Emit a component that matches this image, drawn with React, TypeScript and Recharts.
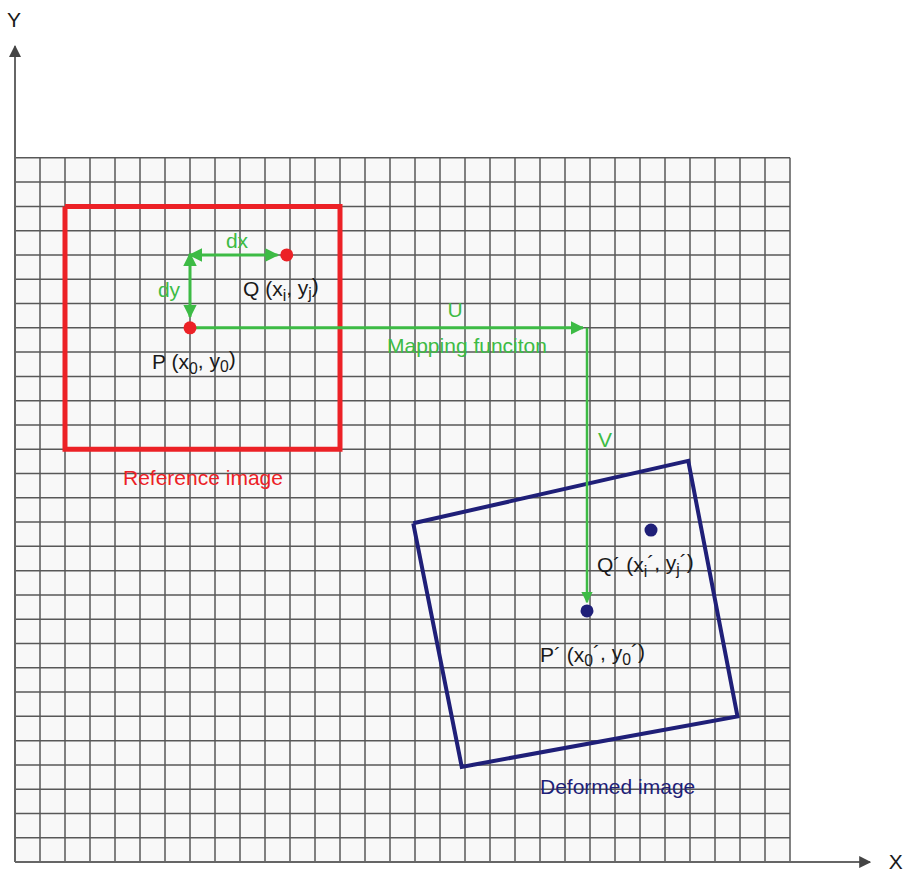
import React from 'react';
import {
  ComposedChart, Line, Scatter, XAxis, YAxis, ReferenceLine, ReferenceArea,
} from 'recharts';

// grid cells (x: columns, y: rows from bottom)
const gridCols = [0, 1, 2, 3, 4, 5, 6, 7, 8, 9, 10, 11, 12, 13, 14, 15, 16, 17, 18, 19, 20, 21, 22, 23, 24, 25, 26, 27, 28, 29, 30, 31];
const gridRows = [0, 1, 2, 3, 4, 5, 6, 7, 8, 9, 10, 11, 12, 13, 14, 15, 16, 17, 18, 19, 20, 21, 22, 23, 24, 25, 26, 27, 28, 29];

const referenceBox = [
  { x: 2, y: 27 }, { x: 13, y: 27 }, { x: 13, y: 17 }, { x: 2, y: 17 }, { x: 2, y: 27 },
];
const deformedBox = [
  { x: 15.93, y: 13.95 }, { x: 26.93, y: 16.52 }, { x: 28.9, y: 6.0 }, { x: 17.87, y: 3.92 }, { x: 15.93, y: 13.95 },
];

const refPoints = [{ x: 7, y: 22 }, { x: 10.87, y: 25 }];
const defPoints = [{ x: 22.88, y: 10.34 }, { x: 25.44, y: 13.67 }];

const dxArrow = [{ x: 7, y: 25 }, { x: 10.5, y: 25 }];
const dyArrow = [{ x: 7, y: 25.05 }, { x: 7, y: 22.45 }];
const uArrow = [{ x: 7, y: 22 }, { x: 22.72, y: 22 }];
const vLine = [{ x: 22.88, y: 22 }, { x: 22.88, y: 10.7 }];

const yAxisArrow = [{ x: 0, y: 0 }, { x: 0, y: 33.6 }];
const xAxisArrow = [{ x: 0, y: 0 }, { x: 34.2, y: 0 }];

const greenLabels = [
  { x: 8.88, y: 25.58, text: 'dx', anchor: 'middle' },
  { x: 6.16, y: 23.56, text: 'dy', anchor: 'middle' },
  { x: 17.6, y: 22.73, text: 'U', anchor: 'middle' },
  { x: 14.88, y: 21.25, text: 'Mapping funciton', anchor: 'start' },
  { x: 23.6, y: 17.38, text: 'V', anchor: 'middle' },
];
const blackLabels = [
  { x: 9.12, y: 23.6, text: 'Q (x_i, y_j)', anchor: 'start' },
  { x: 5.48, y: 20.6, text: 'P (x_0, y_0)', anchor: 'start' },
  { x: 23.28, y: 12.25, text: 'Q´ (x_i´, y_j´)', anchor: 'start' },
  { x: 21.0, y: 8.55, text: 'P´ (x_0´, y_0´)', anchor: 'start' },
];
const axisLabels = [
  { x: -0.04, y: 34.68, text: 'Y', anchor: 'middle' },
  { x: 34.95, y: 0, text: 'X', anchor: 'start' },
];
const redLabels = [{ x: 4.32, y: 15.82, text: 'Reference image', anchor: 'start' }];
const blueLabels = [{ x: 21.0, y: 3.09, text: 'Deformed image', anchor: 'start' }];

const RED = '#ec2126';
const NAVY = '#1f1f78';
const GREEN = '#3dbb45';
const GRID = '#585858';

function renderText(color: string, size = 21) {
  return (props: any) => {
    const { cx, cy, payload } = props;
    const parts = String(payload.text).split(/(_.)/);
    return (
      <text x={cx} y={cy} dy="0.35em" textAnchor={payload.anchor} fill={color}
        fontFamily="Liberation Sans, Arial, sans-serif" fontSize={size}>
        {parts.map((p, i) =>
          p.startsWith('_') ? (
            <tspan key={i} dy="0.3em" fontSize={size * 0.75}>{p.slice(1)}</tspan>
          ) : i > 0 && parts[i - 1].startsWith('_') ? (
            <tspan key={i} dy="-0.3em">{p}</tspan>
          ) : (
            <tspan key={i}>{p}</tspan>
          ))}
      </text>
    );
  };
}

export default function App() {
  return (
    <div style={{ position: 'absolute', left: 0, top: 0 }}>
      <ComposedChart width={905} height={872} margin={{ top: 0, right: 0, bottom: 0, left: 0 }}>
        <defs>
          <marker id="ag" viewBox="0 0 10 10" refX="9" refY="5" markerWidth="4.5" markerHeight="4.5" orient="auto-start-reverse">
            <path d="M0,0 L10,5 L0,10 z" fill={GREEN} />
          </marker>
          <marker id="ak" viewBox="0 0 10 10" refX="9" refY="5" markerWidth="6" markerHeight="6" orient="auto-start-reverse">
            <path d="M0,0 L10,5 L0,10 z" fill="#444" />
          </marker>
        </defs>
        <XAxis type="number" dataKey="x" domain={[-0.6, 35.6]} hide allowDataOverflow />
        <YAxis type="number" dataKey="y" domain={[-0.41, 35.5]} hide allowDataOverflow />

        <ReferenceArea x1={0} x2={31} y1={0} y2={29} fill="#f8f8f8" fillOpacity={1} stroke="none" />
        {gridCols.map((c) => (
          <ReferenceLine key={'c' + c} segment={[{ x: c, y: 0 }, { x: c, y: 29 }]} stroke={GRID} strokeWidth={1.5} />
        ))}
        {gridRows.map((r) => (
          <ReferenceLine key={'r' + r} segment={[{ x: 0, y: r }, { x: 31, y: r }]} stroke={GRID} strokeWidth={1.5} />
        ))}

        <Line data={yAxisArrow} dataKey="y" stroke="#666" strokeWidth={2} dot={false} markerEnd="url(#ak)" isAnimationActive={false} />
        <Line data={xAxisArrow} dataKey="y" stroke="#666" strokeWidth={2} dot={false} markerEnd="url(#ak)" isAnimationActive={false} />

        <Line data={referenceBox} dataKey="y" stroke={RED} strokeWidth={5} dot={false} type="linear" strokeLinejoin="miter" isAnimationActive={false} />
        <Line data={deformedBox} dataKey="y" stroke={NAVY} strokeWidth={4} dot={false} type="linear" strokeLinejoin="miter" isAnimationActive={false} />

        <Line data={uArrow} dataKey="y" stroke={GREEN} strokeWidth={3} dot={false} markerEnd="url(#ag)" isAnimationActive={false} />
        <Line data={vLine} dataKey="y" stroke={GREEN} strokeWidth={2.5} dot={false} markerEnd="url(#ag)" isAnimationActive={false} />
        <Line data={dxArrow} dataKey="y" stroke={GREEN} strokeWidth={3} dot={false} markerStart="url(#ag)" markerEnd="url(#ag)" isAnimationActive={false} />
        <Line data={dyArrow} dataKey="y" stroke={GREEN} strokeWidth={3} dot={false} markerStart="url(#ag)" markerEnd="url(#ag)" isAnimationActive={false} />

        <Scatter data={refPoints} fill={RED} shape={(p: any) => <circle cx={p.cx} cy={p.cy} r={6.5} fill={RED} />} isAnimationActive={false} />
        <Scatter data={defPoints} fill={NAVY} shape={(p: any) => <circle cx={p.cx} cy={p.cy} r={6.5} fill={NAVY} />} isAnimationActive={false} />

        <Scatter data={greenLabels} shape={renderText(GREEN)} isAnimationActive={false} />
        <Scatter data={blackLabels} shape={renderText('#1a1a1a')} isAnimationActive={false} />
        <Scatter data={axisLabels} shape={renderText('#1a1a1a', 21)} isAnimationActive={false} />
        <Scatter data={redLabels} shape={renderText(RED)} isAnimationActive={false} />
        <Scatter data={blueLabels} shape={renderText(NAVY)} isAnimationActive={false} />
      </ComposedChart>
    </div>
  );
}
